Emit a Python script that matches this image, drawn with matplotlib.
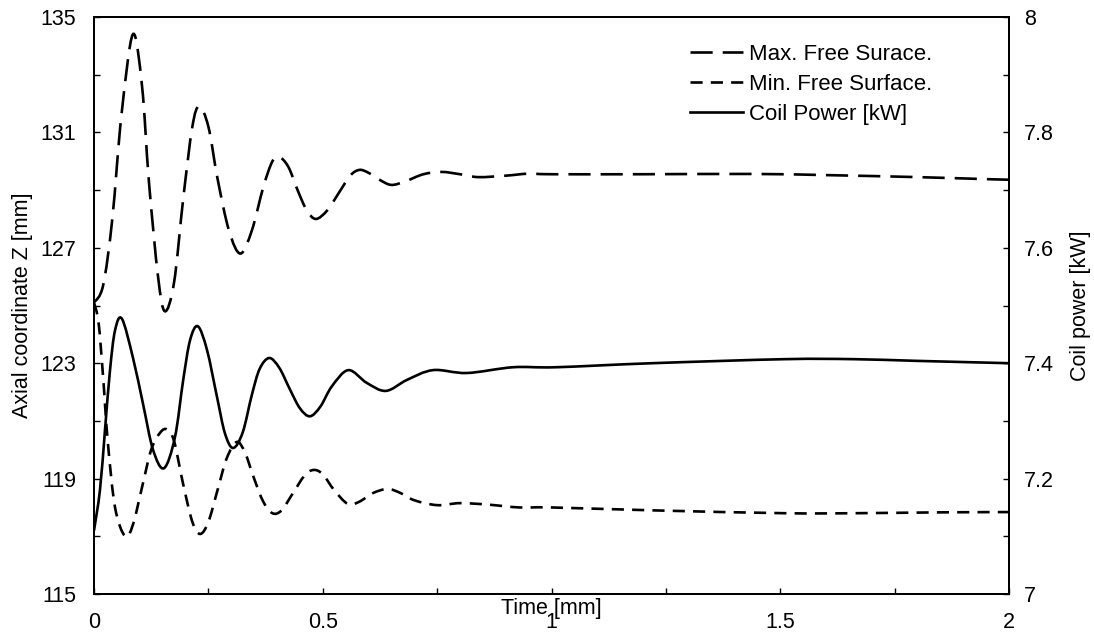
import numpy as np
import matplotlib.pyplot as plt
from matplotlib.ticker import MultipleLocator, FuncFormatter
from matplotlib.path import Path
from matplotlib.patches import PathPatch
from matplotlib.lines import Line2D

plt.rcParams['font.family'] = ['Liberation Sans', 'DejaVu Sans']
plt.rcParams['font.size'] = 15.5

# Max. free surface height [mm] vs time
t_max = [0, 0.02, 0.04, 0.06, 0.085, 0.105, 0.12, 0.14, 0.155, 0.175, 0.195, 0.215,
         0.23, 0.25, 0.27, 0.295, 0.32, 0.345, 0.37, 0.39, 0.405, 0.425, 0.445, 0.465,
         0.485, 0.51, 0.535, 0.56, 0.58, 0.6, 0.625, 0.65, 0.68, 0.72, 0.76, 0.8, 0.84,
         0.9, 0.95, 1.0, 1.2, 1.44, 1.6, 1.8, 1.95, 2.0]
z_max = [125.1, 125.7, 128.0, 131.6, 134.4, 132.6, 129.3, 126.0, 124.8, 125.8, 128.7, 131.2,
         131.9, 131.2, 129.4, 127.6, 126.8, 127.6, 129.1, 130.0, 130.15, 129.8, 129.0, 128.3,
         128.0, 128.3, 128.9, 129.5, 129.7, 129.6, 129.35, 129.18, 129.3, 129.55, 129.63, 129.55, 129.45,
         129.5, 129.57, 129.55, 129.55, 129.56, 129.52, 129.45, 129.38, 129.36]

# Min. free surface height [mm] vs time
t_min = [0, 0.01, 0.02, 0.03, 0.046, 0.068, 0.085, 0.105, 0.125, 0.145, 0.16, 0.175,
         0.195, 0.215, 0.232, 0.25, 0.27, 0.29, 0.312, 0.33, 0.35, 0.37, 0.39, 0.41,
         0.435, 0.46, 0.48, 0.5, 0.525, 0.555, 0.58, 0.61, 0.642, 0.67, 0.7, 0.75,
         0.8, 0.86, 0.93, 1.0, 1.22, 1.51, 1.66, 1.85, 2.0]
z_min = [125.1, 124.4, 122.5, 120.3, 118.0, 117.0, 117.4, 118.7, 120.0, 120.6, 120.7, 120.3,
         118.8, 117.5, 117.08, 117.5, 118.6, 119.7, 120.27, 119.9, 119.0, 118.2, 117.8, 117.9,
         118.5, 119.1, 119.3, 119.15, 118.6, 118.12, 118.2, 118.5, 118.64, 118.5, 118.25, 118.08,
         118.15, 118.1, 118.0, 118.0, 117.9, 117.8, 117.8, 117.83, 117.84]

# Coil power [kW] vs time
t_pow = [0, 0.013, 0.024, 0.035, 0.046, 0.061, 0.085, 0.107, 0.129, 0.153, 0.177, 0.195,
         0.21, 0.227, 0.247, 0.269, 0.286, 0.304, 0.325, 0.345, 0.362, 0.383, 0.405, 0.428,
         0.45, 0.472, 0.495, 0.52, 0.556, 0.596, 0.638, 0.684, 0.741, 0.815, 0.916, 1.01,
         1.22, 1.51, 1.66, 1.8, 2.0]
p_coil = [7.11, 7.18, 7.284, 7.388, 7.457, 7.477, 7.41, 7.33, 7.25, 7.218, 7.272, 7.371,
          7.44, 7.464, 7.423, 7.341, 7.279, 7.253, 7.28, 7.345, 7.39, 7.409, 7.392, 7.355,
          7.322, 7.308, 7.325, 7.36, 7.388, 7.366, 7.352, 7.371, 7.388, 7.383, 7.393, 7.393,
          7.40, 7.407, 7.407, 7.404, 7.40]


def smooth_path(x, y):
    # Excel-like "smoothed line": cubic bezier segments through the points
    p = np.column_stack([x, y]).astype(float)
    verts = [p[0]]
    codes = [Path.MOVETO]
    n = len(p)
    for i in range(n - 1):
        p0 = p[max(i - 1, 0)]
        p1, p2 = p[i], p[i + 1]
        p3 = p[min(i + 2, n - 1)]
        verts += [p1 + (p2 - p0) / 6, p2 - (p3 - p1) / 6, p2]
        codes += [Path.CURVE4] * 3
    return Path(verts, codes)


fig = plt.figure(figsize=(10.94, 6.33), dpi=100)
ax = fig.add_axes([94/1094, 1 - 594/633, 915/1094, 577/633])
ax2 = ax.twinx()

lw = 1.9
long_dash = (0, (8.4, 3.8))
short_dash = (0, (4.6, 3.1))
ax.add_patch(PathPatch(smooth_path(t_max, z_max), fill=False, ec='black', lw=lw, ls=long_dash))
ax.add_patch(PathPatch(smooth_path(t_min, z_min), fill=False, ec='black', lw=lw, ls=short_dash))
ax2.add_patch(PathPatch(smooth_path(t_pow, p_coil), fill=False, ec='black', lw=lw, ls='-'))

ax.set_xlim(0, 2)
ax.set_ylim(115, 135)
ax2.set_ylim(7, 8)

ax.xaxis.set_major_locator(MultipleLocator(0.5))
ax.xaxis.set_minor_locator(MultipleLocator(0.25))
ax.yaxis.set_major_locator(MultipleLocator(4, offset=3))
ax.yaxis.set_minor_locator(MultipleLocator(2, offset=1))
ax2.yaxis.set_major_locator(MultipleLocator(0.2))
ax2.yaxis.set_minor_locator(MultipleLocator(0.1))
fmt = FuncFormatter(lambda v, p: '%g' % round(v, 3))
ax.xaxis.set_major_formatter(fmt)
ax2.yaxis.set_major_formatter(fmt)

for a in (ax, ax2):
    for s in a.spines.values():
        s.set_linewidth(1.4)
ax.tick_params(axis='both', which='both', direction='in', length=4, width=1)
ax.tick_params(axis='y', pad=13)
ax.tick_params(axis='x', pad=13)
ax2.tick_params(axis='y', which='both', direction='in', length=4, width=1, pad=11)

ax.set_xlabel('Time [mm]')
ax.xaxis.set_label_coords(0.5, -0.007)
ax.set_ylabel('Axial coordinate Z [mm]', labelpad=5)
ax2.set_ylabel('Coil power [kW]', labelpad=11.5)

handles = [Line2D([], [], color='black', lw=lw, ls=long_dash),
           Line2D([], [], color='black', lw=lw, ls=short_dash),
           Line2D([], [], color='black', lw=lw, ls='-')]
labels = ['Max. Free Surace.', 'Min. Free Surface.', 'Coil Power [kW]']
ax2.legend(handles, labels, loc='upper left', bbox_to_anchor=(0.651, 0.953),
           frameon=False, borderpad=0, borderaxespad=0, handlelength=2.4,
           handletextpad=0.25, labelspacing=0.4, fontsize=16)

fig.savefig('out.png', dpi=100)
